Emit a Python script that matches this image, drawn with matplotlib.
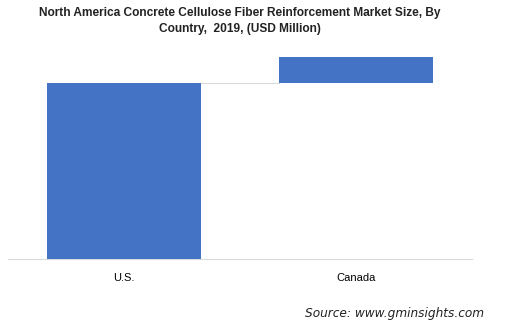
import matplotlib
matplotlib.use('Agg')
import matplotlib.pyplot as plt

countries = ['U.S.', 'Canada']
values = [675, 100]

bottoms = [0, values[0]]
bar_color = '#4472C4'

fig = plt.figure(figsize=(5.08, 3.30), dpi=100)
ax = fig.add_axes([8 / 508, 71 / 330, 464 / 508, 209 / 330])

x = range(len(countries))
ax.bar(x, values, bottom=bottoms, width=0.66, color=bar_color, zorder=3)

# connector between the bars
ax.plot([0 + 0.33, 1 - 0.33], [values[0], values[0]], color='#d9d9d9', lw=0.8, zorder=2)

ax.set_xlim(-0.5, 1.5)
ax.set_ylim(0, 800)
ax.set_xticks(list(x))
ax.set_xticklabels(countries, family='Liberation Sans', fontsize=8, color='#000000')
ax.tick_params(axis='x', length=0, pad=10)
ax.set_yticks([])
for side in ['top', 'right', 'left']:
    ax.spines[side].set_visible(False)
ax.spines['bottom'].set_color('#d9d9d9')
ax.spines['bottom'].set_linewidth(0.8)

fig.text(240 / 508, 1 - 21 / 330,
         'North America Concrete Cellulose Fiber Reinforcement Market Size, By\nCountry,  2019, (USD Million)',
         ha='center', va='center', family='Liberation Sans', fontweight='bold',
         fontsize=8.6, color='#222222', linespacing=1.45)

fig.text(484 / 508, 1 - 313 / 330, 'Source: www.gminsights.com',
         ha='right', va='center', family='DejaVu Sans', style='italic',
         fontsize=8.7, color='#222222')

fig.savefig('out.png', dpi=100)
